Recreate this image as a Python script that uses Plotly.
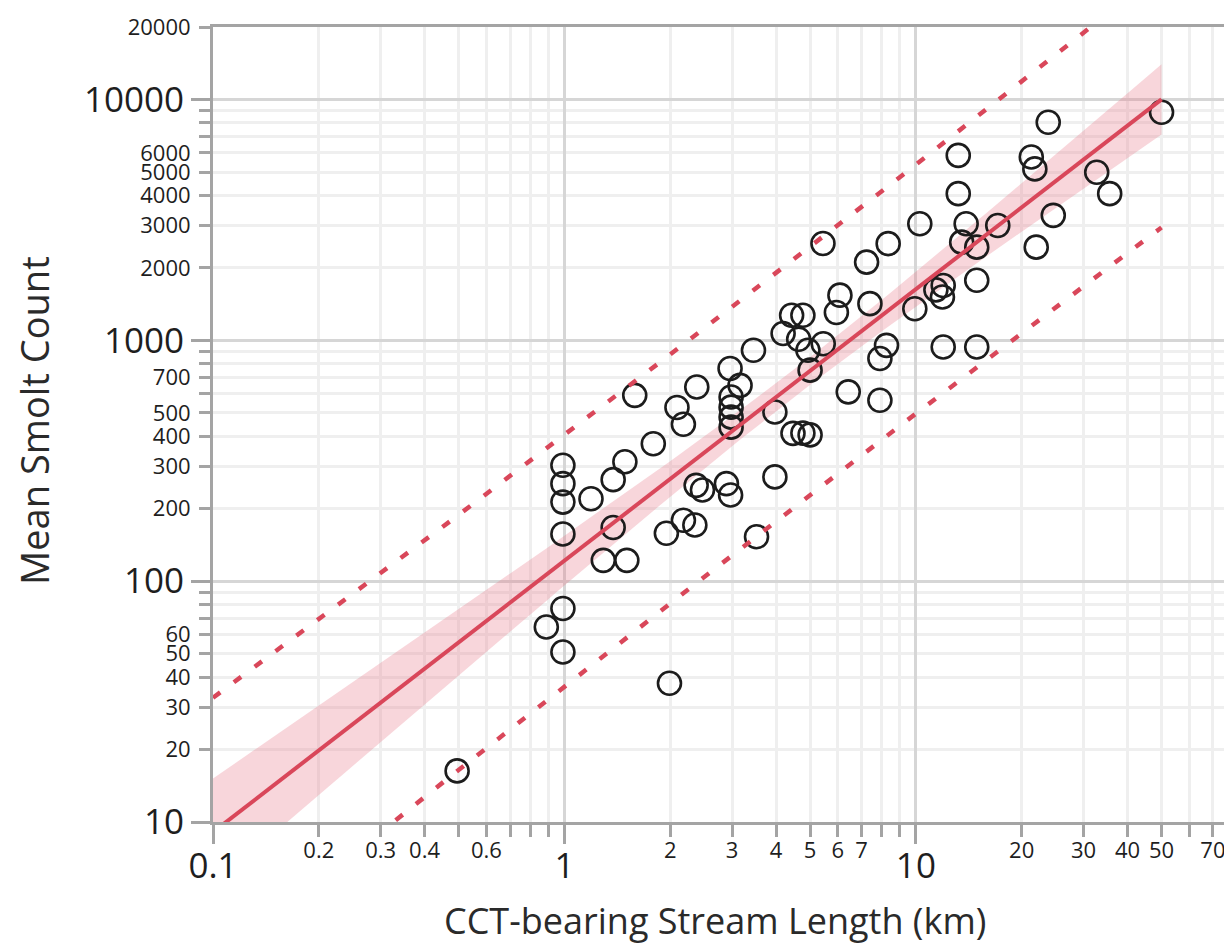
import numpy as np
import plotly.graph_objects as go

# ---- data (km, mean smolt count) ----
length_km = [0.495, 0.888, 0.99, 0.99, 1.99, 0.99, 0.99, 0.99, 0.99, 1.19,
             1.376, 1.486, 1.585, 1.79, 2.09, 2.18, 2.38, 2.96, 3.16, 2.98,
             2.98, 2.98, 2.98, 3.45, 3.97, 3.97, 4.19, 4.43, 4.77, 4.64,
             4.93, 5.0, 5.45, 4.47, 4.77, 5.0, 2.37, 2.47, 2.89, 2.97,
             3.52, 1.95, 2.18, 2.35, 1.376, 1.29, 1.505, 5.44, 7.24, 8.34,
             6.08, 5.94, 7.40, 10.26, 9.93, 13.2, 13.2, 13.9, 13.5, 14.9,
             17.1, 14.9, 11.96, 11.9, 11.4, 22.0, 24.6, 21.3, 21.8, 23.8,
             32.7, 35.6, 50.0, 8.25, 7.9, 11.96, 14.9, 6.42, 7.9]
smolt_count = [16.3, 64.5, 77, 50.8, 37.7, 303, 254, 213, 157, 220,
               264, 313, 591, 372, 526, 448, 640, 764, 650, 582,
               528, 480, 436, 910, 504, 271, 1067, 1271, 1271, 1010,
               910, 752, 968, 411, 412, 405, 250, 239, 254, 228,
               153, 158, 179, 171, 167, 122, 122, 2523, 2113, 2520,
               1540, 1305, 1420, 3048, 1352, 5860, 4065, 3048, 2557, 2437,
               3000, 1775, 1690, 1514, 1620, 2437, 3304, 5770, 5150, 8050,
               4990, 4065, 8850, 953, 840, 938, 938, 611, 564]

# ---- tick labels ----
x_major_ticks = [0.1, 1, 10]
x_major_text = ["0.1", "1", "10"]
x_minor_ticks = [0.2, 0.3, 0.4, 0.5, 0.6, 0.7, 0.8, 0.9,
                 2, 3, 4, 5, 6, 7, 8, 9,
                 20, 30, 40, 50, 60, 70, 80, 90]
x_minor_text = ["0.2", "0.3", "0.4", "", "0.6", "", "", "",
                "2", "3", "4", "5", "6", "7", "", "",
                "20", "30", "40", "50", "", "70", "", ""]
y_major_ticks = [10, 100, 1000, 10000]
y_major_text = ["10", "100", "1000", "10000"]
y_minor_ticks = [20, 30, 40, 50, 60, 70, 80, 90,
                 200, 300, 400, 500, 600, 700, 800, 900,
                 2000, 3000, 4000, 5000, 6000, 7000, 8000, 9000, 20000]
y_minor_text = ["20", "30", "40", "50", "60", "", "", "",
                "200", "300", "400", "500", "", "700", "", "",
                "2000", "3000", "4000", "5000", "6000", "", "", "", "20000"]

x_title = "CCT-bearing Stream Length (km)"
y_title = "Mean Smolt Count"

# ---- log-log least squares fit with 95% confidence / prediction curves ----
lx = np.log10(np.array(length_km))
ly = np.log10(np.array(smolt_count))
n = len(lx)
slope, intercept = np.polyfit(lx, ly, 1)
resid = ly - (intercept + slope * lx)
s = np.sqrt(np.sum(resid ** 2) / (n - 2))
mx = lx.mean()
sxx = np.sum((lx - mx) ** 2)
T95 = 1.991
gx = np.linspace(-1, lx.max(), 120)
fit = intercept + slope * gx
ci = T95 * s * np.sqrt(1 / n + (gx - mx) ** 2 / sxx)
pi = T95 * s * np.sqrt(1 + 1 / n + (gx - mx) ** 2 / sxx)
X = 10 ** gx

RED = "#d9475a"
AX = "#a4a4a4"
MAJ_GRID = "#d6d6d6"
MIN_GRID = "#efefef"
FONT = "Open Sans"

fig = go.Figure()
fig.add_trace(go.Scatter(
    x=np.concatenate([X, X[::-1]]),
    y=10 ** np.concatenate([fit + ci, (fit - ci)[::-1]]),
    fill="toself", fillcolor="rgba(232,120,136,0.30)",
    line=dict(width=0), mode="lines", hoverinfo="skip", showlegend=False))
fig.add_trace(go.Scatter(
    x=length_km, y=smolt_count, mode="markers",
    marker=dict(symbol="circle-open", size=23, color="#1c1c1c",
                line=dict(width=2.6)),
    showlegend=False))
fig.add_trace(go.Scatter(x=X, y=10 ** fit, mode="lines",
                         line=dict(color=RED, width=4), showlegend=False))
for sign in (1, -1):
    fig.add_trace(go.Scatter(x=X, y=10 ** (fit + sign * pi), mode="lines",
                             line=dict(color=RED, width=4.5, dash="9px,17px"),
                             showlegend=False))
# invisible trace that carries the overlay axes (major decade labels)
fig.add_trace(go.Scatter(x=[length_km[0]], y=[smolt_count[0]], xaxis="x2", yaxis="y2",
                         mode="markers", marker=dict(opacity=0), hoverinfo="skip",
                         showlegend=False))

xr = [-1, 1.8995]
yr = [1, np.log10(20000)]
common_minor = dict(type="log", ticks="outside", tickwidth=3, tickcolor=AX,
                    showgrid=True, gridcolor=MIN_GRID, gridwidth=2.5,
                    zeroline=False, tickfont=dict(family=FONT, size=22, color="#1e1e1e"))
common_major = dict(type="log", ticks="outside", tickwidth=3, tickcolor=AX,
                    showgrid=True, gridcolor=MAJ_GRID, gridwidth=3,
                    zeroline=False, showline=False,
                    tickfont=dict(family=FONT, size=35, color="#1e1e1e"))

# the page body has an 8px margin, so the figure is sized to fit the window
fig.update_layout(
    width=1224, height=935,
    margin=dict(l=205, r=0, t=19, b=121),
    paper_bgcolor="white", plot_bgcolor="white",
    hovermode=False, showlegend=False,
    xaxis=dict(range=xr, tickmode="array", tickvals=x_minor_ticks, ticktext=x_minor_text,
               ticklen=12, ticklabelstandoff=-5,
               showline=True, linecolor=AX, linewidth=3, mirror=True,
               **common_minor),
    yaxis=dict(range=yr, tickmode="array", tickvals=y_minor_ticks, ticktext=y_minor_text,
               ticklen=11, ticklabelstandoff=4, showline=True, linecolor=AX, linewidth=3,
               **common_minor),
    xaxis2=dict(range=xr, overlaying="x", side="bottom", anchor="y2",
                tickmode="array", tickvals=x_major_ticks, ticktext=x_major_text,
                ticklen=21, ticklabelstandoff=-8, **common_major),
    yaxis2=dict(range=yr, overlaying="y", side="left", anchor="x2",
                tickmode="array", tickvals=y_major_ticks, ticktext=y_major_text,
                ticklen=21, **common_major),
    annotations=[
        dict(text=x_title, xref="paper", yref="paper", x=0.4926, y=-0.1245,
             xanchor="center", yanchor="middle", showarrow=False,
             font=dict(family=FONT, size=36, color="#2a2a2a")),
        dict(text=y_title, xref="paper", yref="paper", x=-0.1757, y=0.5057,
             xanchor="center", yanchor="middle", textangle=-90, showarrow=False,
             font=dict(family=FONT, size=38, color="#2a2a2a")),
    ],
)

fig.write_html("out.html")
